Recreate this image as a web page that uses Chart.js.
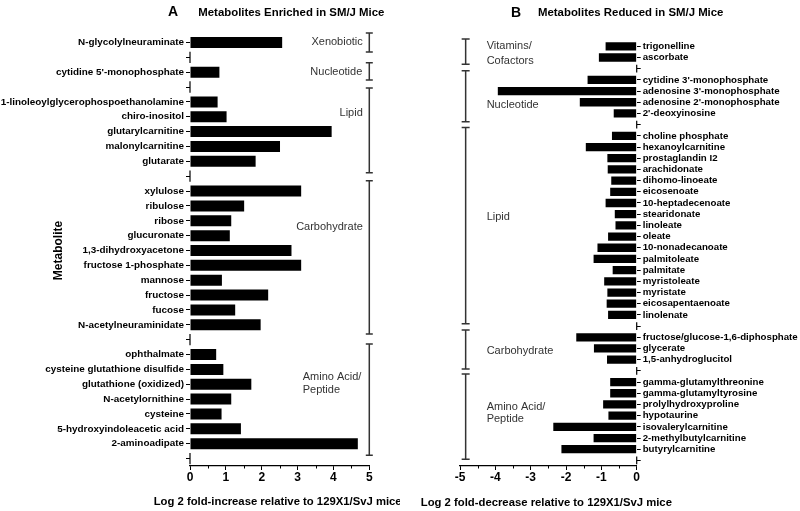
<!DOCTYPE html>
<html><head><meta charset="utf-8">
<script src="https://cdn.jsdelivr.net/npm/chart.js@4/dist/chart.umd.min.js"></script>
<style>
html,body{margin:0;padding:0;background:#fff;}
#wrap{position:relative;width:800px;height:511px;overflow:hidden;}
.pane{position:absolute;top:0;width:400px;height:511px;}
canvas{display:block;}
</style></head><body>
<div id="wrap">
<div class="pane" style="left:0"><canvas id="ca" width="400" height="511"></canvas></div>
<div class="pane" style="left:400px"><canvas id="cb" width="400" height="511"></canvas></div>
</div>
<script>
// ---------- Panel A: Metabolites Enriched in SM/J Mice (log2 fold-increase) ----------
const groupsA = ['Xenobiotic', 'Nucleotide', 'Lipid', 'Carbohydrate', 'Amino Acid/Peptide'];
const xenobioticA = ['N-glycolylneuraminate'];
const xenobioticValuesA = [2.57];
const nucleotideA = ["cytidine 5'-monophosphate"];
const nucleotideValuesA = [0.82];
const lipidA = ['1-linoleoylglycerophospoethanolamine', 'chiro-inositol', 'glutarylcarnitine', 'malonylcarnitine', 'glutarate'];
const lipidValuesA = [0.77, 1.02, 3.95, 2.51, 1.83];
const carbohydrateA = ['xylulose', 'ribulose', 'ribose', 'glucuronate', '1,3-dihydroxyacetone', 'fructose 1-phosphate', 'mannose', 'fructose', 'fucose', 'N-acetylneuraminidate'];
const carbohydrateValuesA = [3.10, 1.51, 1.15, 1.11, 2.83, 3.10, 0.89, 2.18, 1.26, 1.97];
const aminoA = ['ophthalmate', 'cysteine glutathione disulfide', 'glutathione (oxidized)', 'N-acetylornithine', 'cysteine', '5-hydroxyindoleacetic acid', '2-aminoadipate'];
const aminoValuesA = [0.73, 0.93, 1.71, 1.15, 0.88, 1.42, 4.68];
const xTicksA = [0, 1, 2, 3, 4, 5];

// ---------- Panel B: Metabolites Reduced in SM/J Mice (log2 fold-decrease) ----------
const groupsB = ['Vitamins/Cofactors', 'Nucleotide', 'Lipid', 'Carbohydrate', 'Amino Acid/Peptide'];
const vitaminsB = ['trigonelline', 'ascorbate'];
const vitaminsValuesB = [-0.88, -1.07];
const nucleotideB = ["cytidine 3'-monophosphate", "adenosine 3'-monophosphate", "adenosine 2'-monophosphate", "2'-deoxyinosine"];
const nucleotideValuesB = [-1.39, -3.93, -1.61, -0.65];
const lipidB = ['choline phosphate', 'hexanoylcarnitine', 'prostaglandin I2', 'arachidonate', 'dihomo-linoeate', 'eicosenoate', '10-heptadecenoate', 'stearidonate', 'linoleate', 'oleate', '10-nonadecanoate', 'palmitoleate', 'palmitate', 'myristoleate', 'myristate', 'eicosapentaenoate', 'linolenate'];
const lipidValuesB = [-0.70, -1.44, -0.83, -0.82, -0.72, -0.75, -0.88, -0.62, -0.60, -0.81, -1.11, -1.22, -0.68, -0.92, -0.83, -0.85, -0.81];
const carbohydrateB = ['fructose/glucose-1,6-diphosphate', 'glycerate', '1,5-anhydroglucitol'];
const carbohydrateValuesB = [-1.71, -1.21, -0.84];
const aminoB = ['gamma-glutamylthreonine', 'gamma-glutamyltyrosine', 'prolylhydroxyproline', 'hypotaurine', 'isovalerylcarnitine', '2-methylbutylcarnitine', 'butyrylcarnitine'];
const aminoValuesB = [-0.75, -0.75, -0.95, -0.80, -2.36, -1.22, -2.13];
const xTicksB = [-5, -4, -3, -2, -1, 0];

// build rows with an empty spacer row after each group
function buildRows(labelSets, valueSets) {
  const labels = [], values = [], ranges = [], gaps = [];
  labelSets.forEach((ls, g) => {
    const start = labels.length;
    ls.forEach((l, i) => { labels.push(l); values.push(valueSets[g][i]); });
    ranges.push([start, labels.length - 1]);
    gaps.push(labels.length);
    labels.push(''); values.push(null);
  });
  return {labels, values, ranges, gaps};
}
const rowsA = buildRows([xenobioticA, nucleotideA, lipidA, carbohydrateA, aminoA],
  [xenobioticValuesA, nucleotideValuesA, lipidValuesA, carbohydrateValuesA, aminoValuesA]);
const rowsB = buildRows([vitaminsB, nucleotideB, lipidB, carbohydrateB, aminoB],
  [vitaminsValuesB, nucleotideValuesB, lipidValuesB, carbohydrateValuesB, aminoValuesB]);

const FF = "'Liberation Sans', Arial, Helvetica, sans-serif";

const decorPlugin = {
  id: 'decor',
  afterDraw(chart, args, o) {
    const ctx = chart.ctx;
    const xs = chart.scales.x, ys = chart.scales.y;
    const ca = chart.chartArea;
    ctx.save();
    // titles
    ctx.fillStyle = '#000';
    ctx.textBaseline = 'middle';
    ctx.textAlign = 'left';
    ctx.font = 'bold 14px ' + FF;
    ctx.fillText(o.letter, o.letterX, o.titleY);
    ctx.font = 'bold 11.4px ' + FF;
    ctx.fillText(o.title, o.titleX, o.titleY);
    // x-axis title
    ctx.textAlign = 'center';
    ctx.font = 'bold 11.3px ' + FF;
    ctx.fillText(o.xTitle, (ca.left + ca.right) / 2 + o.xTitleDx, o.xTitleY);
    // minor ticks on x axis
    ctx.strokeStyle = '#000';
    ctx.lineWidth = 1;
    const yb = ca.bottom;
    o.minor.forEach(v => {
      const px = Math.round(xs.getPixelForValue(v)) + 0.5;
      ctx.beginPath(); ctx.moveTo(px, yb); ctx.lineTo(px, yb + 2.5); ctx.stroke();
    });
    // short axis segments at the spacer rows
    const ax = xs.getPixelForValue(o.axisValue);
    ctx.lineWidth = 1.2;
    o.gaps.forEach(r => {
      ctx.beginPath();
      ctx.moveTo(ax, ys.getPixelForValue(r - o.gapHalf));
      ctx.lineTo(ax, ys.getPixelForValue(r + o.gapHalf));
      ctx.stroke();
    });
    // brackets
    const bx = xs.getPixelForValue(o.bracketValue);
    ctx.strokeStyle = '#333';
    ctx.lineWidth = 1.5;
    o.brackets.forEach(b => {
      const y1 = ys.getPixelForValue(b[0]), y2 = ys.getPixelForValue(b[1]);
      ctx.beginPath();
      ctx.moveTo(bx, y1); ctx.lineTo(bx, y2);
      ctx.moveTo(bx - o.cap, y1); ctx.lineTo(bx + o.cap, y1);
      ctx.moveTo(bx - o.cap, y2); ctx.lineTo(bx + o.cap, y2);
      ctx.stroke();
    });
    // group labels
    ctx.fillStyle = '#333';
    ctx.font = '11px ' + FF;
    o.groupText.forEach(t => {
      ctx.textAlign = t.align;
      ctx.fillText(t.text, bx + t.dx, ys.getPixelForValue(t.row));
    });
    ctx.restore();
  }
};

function makeChart(id, rows, xMin, xMax, ticks, yPos, yWidth, pad, yTitle, labelSize, decor) {
  return new Chart(document.getElementById(id), {
    type: 'bar',
    data: {
      labels: rows.labels,
      datasets: [{data: rows.values, backgroundColor: '#000', borderWidth: 0,
        barPercentage: 0.74, categoryPercentage: 1.0}]
    },
    options: {
      indexAxis: 'y',
      responsive: false,
      animation: false,
      devicePixelRatio: 1,
      layout: {padding: pad},
      plugins: {legend: {display: false}, tooltip: {enabled: false}, decor: decor},
      scales: {
        x: {
          type: 'linear', min: xMin, max: xMax,
          afterBuildTicks: s => { s.ticks = ticks.map(v => ({value: v})); },
          ticks: {callback: v => String(v), font: {family: FF, size: 12, weight: 'bold'}, color: '#000', padding: 0, maxRotation: 0},
          grid: {drawOnChartArea: false, drawTicks: true, tickLength: 4, color: '#000', lineWidth: 1},
          border: {display: true, color: '#000', width: 1.2},
          title: {display: false},
          afterFit: s => { s.height = 45; }
        },
        y: {
          type: 'category', position: yPos, offset: true,
          ticks: {autoSkip: false, font: {family: FF, size: labelSize, weight: 'bold'}, color: '#000', padding: 2},
          grid: {offset: false, drawOnChartArea: false, drawTicks: true, tickLength: 4, color: '#000', lineWidth: 1},
          border: {display: false},
          title: yTitle ? {display: true, text: yTitle, font: {family: FF, size: 12, weight: 'bold'}, color: '#000', padding: {top: 51.5, bottom: 0}} : {display: false},
          afterFit: s => { s.width = yWidth; }
        }
      }
    },
    plugins: [decorPlugin]
  });
}

makeChart('ca', rowsA, 0, 5, xTicksA, 'left', 190, {left: 0, right: 30.7, top: 35, bottom: 0},
  'Metabolite', 9.9, {
    letter: 'A', letterX: 168, title: 'Metabolites Enriched in SM/J Mice', titleX: 198.3, titleY: 12.5,
    xTitle: 'Log 2 fold-increase relative to 129X1/SvJ mice', xTitleDx: -2, xTitleY: 501.7,
    minor: [0.5, 1.5, 2.5, 3.5, 4.5], axisValue: 0, gaps: rowsA.gaps, gapHalf: 0.38,
    bracketValue: 5, cap: 3.5,
    brackets: [[-0.63, 0.64], [1.36, 2.53], [3.07, 8.77], [9.3, 19.62], [20.29, 27.78]],
    groupText: [
      {text: 'Xenobiotic', row: 0, dx: -6.5, align: 'right'},
      {text: 'Nucleotide', row: 2, dx: -7, align: 'right'},
      {text: 'Lipid', row: 4.75, dx: -6.5, align: 'right'},
      {text: 'Carbohydrate', row: 12.42, dx: -6.5, align: 'right'},
      {text: 'Amino Acid/', row: 22.5, dx: -66.6, align: 'left'},
      {text: 'Peptide', row: 23.39, dx: -66.6, align: 'left'}
    ]
  });

makeChart('cb', rowsB, -5, 0, xTicksB, 'right', 163.3, {left: 60, right: 0, top: 40.7, bottom: 0},
  null, 9.7, {
    letter: 'B', letterX: 111, title: 'Metabolites Reduced in SM/J Mice', titleX: 138, titleY: 13.3,
    xTitle: 'Log 2 fold-decrease relative to 129X1/SvJ mice', xTitleDx: -2, xTitleY: 502.7,
    minor: [-4.5, -3.5, -2.5, -1.5, -0.5], axisValue: 0, gaps: rowsB.gaps, gapHalf: 0.35,
    bracketValue: -4.84, cap: 4,
    brackets: [[-0.65, 1.61], [2.19, 6.75], [7.25, 24.8], [25.34, 28.83], [29.28, 36.9]],
    groupText: [
      {text: 'Vitamins/', row: -0.03, dx: 21, align: 'left'},
      {text: 'Cofactors', row: 1.29, dx: 21, align: 'left'},
      {text: 'Nucleotide', row: 5.23, dx: 21, align: 'left'},
      {text: 'Lipid', row: 15.26, dx: 21, align: 'left'},
      {text: 'Carbohydrate', row: 27.25, dx: 21, align: 'left'},
      {text: 'Amino Acid/', row: 32.2, dx: 21, align: 'left'},
      {text: 'Peptide', row: 33.3, dx: 21, align: 'left'}
    ]
  });
</script>
</body></html>
